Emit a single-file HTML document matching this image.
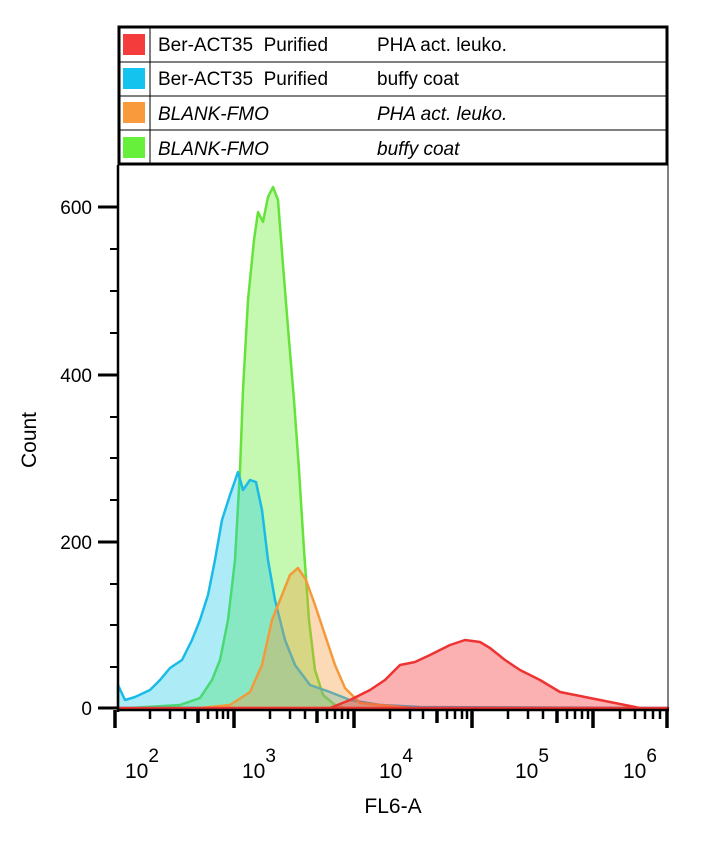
<!DOCTYPE html><html><head><style>body{margin:0;background:#fff}svg{font-family:"Liberation Sans",Arial,sans-serif}</style></head><body>
<svg width="703" height="841" viewBox="0 0 703 841" xmlns="http://www.w3.org/2000/svg">
<rect x="118" y="165" width="550" height="545" fill="#fff"/>
<g stroke-width="2.5" stroke-linejoin="round">
<path d="M130,708 L180,705 L200,698 L212,680 L220,660 L228,620 L235,560 L240,470 L243,390 L248,300 L254,240 L258,212 L263,222 L268,197 L273,187 L278,200 L283,265 L289,340 L294,400 L299,470 L304,550 L309,620 L315,670 L323,695 L335,705 L345,708 Z" fill="rgba(110,240,60,0.4)" stroke="#66e33a"/>
<path d="M118,685 L125,700 L135,697 L150,690 L160,680 L170,668 L182,660 L192,640 L200,620 L208,595 L215,560 L222,520 L230,495 L238,472 L243,490 L250,480 L256,482 L262,510 L268,560 L275,600 L285,640 L295,665 L310,685 L330,692 L350,700 L380,705 L420,707 L668,708 L118,708 Z" fill="rgba(20,200,230,0.35)" stroke="#1bbbe8"/>
<path d="M200,708 L230,705 L250,692 L262,665 L272,620 L282,595 L290,575 L298,568 L306,580 L315,605 L325,635 L335,665 L345,688 L360,703 L400,707 L410,708 Z" fill="rgba(250,150,50,0.35)" stroke="#f39a3a"/>
<path d="M118,708 L330,708 L350,700 L370,690 L385,680 L400,665 L415,662 L430,655 L440,650 L450,645 L465,640 L480,642 L490,648 L505,660 L520,670 L540,680 L560,692 L580,696 L600,700 L620,704 L640,708 L668,708 Z" fill="rgba(245,60,60,0.4)" stroke="#ee3333"/>
</g>
<line x1="668" y1="165" x2="668" y2="710" stroke="#000" stroke-width="1"/>
<line x1="118" y1="165" x2="118" y2="712" stroke="#000" stroke-width="2.5"/>
<line x1="117" y1="710" x2="669" y2="710" stroke="#000" stroke-width="2.5"/>
<g stroke="#000" stroke-width="3">
<line x1="98" y1="708" x2="118" y2="708"/><line x1="98" y1="542" x2="118" y2="542"/><line x1="98" y1="375" x2="118" y2="375"/><line x1="98" y1="207" x2="118" y2="207"/>
</g>
<g stroke="#000" stroke-width="2">
<line x1="110" y1="667" x2="118" y2="667"/><line x1="110" y1="625" x2="118" y2="625"/><line x1="110" y1="584" x2="118" y2="584"/>
<line x1="110" y1="500" x2="118" y2="500"/><line x1="110" y1="458" x2="118" y2="458"/><line x1="110" y1="417" x2="118" y2="417"/>
<line x1="110" y1="333" x2="118" y2="333"/><line x1="110" y1="291" x2="118" y2="291"/><line x1="110" y1="249" x2="118" y2="249"/>
</g>
<g stroke="#000" stroke-width="3.5">
<line x1="115" y1="710" x2="115" y2="728"/><line x1="234" y1="710" x2="234" y2="728"/><line x1="354" y1="710" x2="354" y2="728"/><line x1="472" y1="710" x2="472" y2="728"/><line x1="593" y1="710" x2="593" y2="728"/><line x1="667" y1="710" x2="667" y2="728"/>
<line x1="198" y1="710" x2="198" y2="723"/><line x1="317" y1="710" x2="317" y2="723"/><line x1="437" y1="710" x2="437" y2="723"/><line x1="557" y1="710" x2="557" y2="723"/>
</g>
<g stroke="#000" stroke-width="2.5">
<line x1="150" y1="710" x2="150" y2="719"/><line x1="170" y1="710" x2="170" y2="719"/><line x1="185" y1="710" x2="185" y2="719"/><line x1="208" y1="710" x2="208" y2="719"/><line x1="217" y1="710" x2="217" y2="719"/><line x1="223" y1="710" x2="223" y2="719"/><line x1="228" y1="710" x2="228" y2="719"/>
<line x1="270" y1="710" x2="270" y2="719"/><line x1="290" y1="710" x2="290" y2="719"/><line x1="305" y1="710" x2="305" y2="719"/><line x1="327" y1="710" x2="327" y2="719"/><line x1="335" y1="710" x2="335" y2="719"/><line x1="342" y1="710" x2="342" y2="719"/><line x1="348" y1="710" x2="348" y2="719"/>
<line x1="390" y1="710" x2="390" y2="719"/><line x1="410" y1="710" x2="410" y2="719"/><line x1="423" y1="710" x2="423" y2="719"/><line x1="447" y1="710" x2="447" y2="719"/><line x1="455" y1="710" x2="455" y2="719"/><line x1="462" y1="710" x2="462" y2="719"/><line x1="467" y1="710" x2="467" y2="719"/>
<line x1="508" y1="710" x2="508" y2="719"/><line x1="528" y1="710" x2="528" y2="719"/><line x1="543" y1="710" x2="543" y2="719"/><line x1="567" y1="710" x2="567" y2="719"/><line x1="575" y1="710" x2="575" y2="719"/><line x1="582" y1="710" x2="582" y2="719"/><line x1="588" y1="710" x2="588" y2="719"/>
<line x1="620" y1="710" x2="620" y2="719"/><line x1="635" y1="710" x2="635" y2="719"/><line x1="645" y1="710" x2="645" y2="719"/><line x1="653" y1="710" x2="653" y2="719"/><line x1="660" y1="710" x2="660" y2="719"/>
</g>
<g font-size="19" text-anchor="end" fill="#000">
<text x="92" y="715">0</text><text x="92" y="549">200</text><text x="92" y="382">400</text><text x="92" y="214">600</text>
</g>
<g font-size="21" fill="#000">
<text x="125" y="778">10<tspan dy="-16" font-size="19">2</tspan></text>
<text x="242" y="778">10<tspan dy="-16" font-size="19">3</tspan></text>
<text x="379" y="778">10<tspan dy="-16" font-size="19">4</tspan></text>
<text x="515" y="778">10<tspan dy="-16" font-size="19">5</tspan></text>
<text x="623" y="778">10<tspan dy="-16" font-size="19">6</tspan></text>
</g>
<text x="393" y="813" font-size="21" text-anchor="middle">FL6-A</text>
<text transform="translate(36,440) rotate(-90)" font-size="21" text-anchor="middle">Count</text>
<rect x="119" y="27" width="548" height="137" fill="#fff" stroke="#000" stroke-width="3"/>
<g stroke="#000" stroke-width="1"><line x1="119" y1="62" x2="667" y2="62"/><line x1="119" y1="96" x2="667" y2="96"/><line x1="119" y1="130" x2="667" y2="130"/><line x1="150" y1="27" x2="150" y2="164"/></g>
<rect x="123" y="34" width="22" height="21" fill="#f53c3c"/>
<rect x="123" y="68" width="22" height="21" fill="#14c3ee"/>
<rect x="123" y="102" width="22" height="21" fill="#f99a3c"/>
<rect x="123" y="137" width="22" height="21" fill="#66f03c"/>
<g font-size="19" fill="#000">
<text x="158" y="51">Ber-ACT35&#160;&#160;Purified</text><text x="377" y="51">PHA act. leuko.</text>
<text x="158" y="85">Ber-ACT35&#160;&#160;Purified</text><text x="377" y="85">buffy coat</text>
<text x="158" y="120" font-style="italic">BLANK-FMO</text><text x="377" y="120" font-style="italic">PHA act. leuko.</text>
<text x="158" y="155" font-style="italic">BLANK-FMO</text><text x="377" y="155" font-style="italic">buffy coat</text>
</g>
</svg></body></html>
